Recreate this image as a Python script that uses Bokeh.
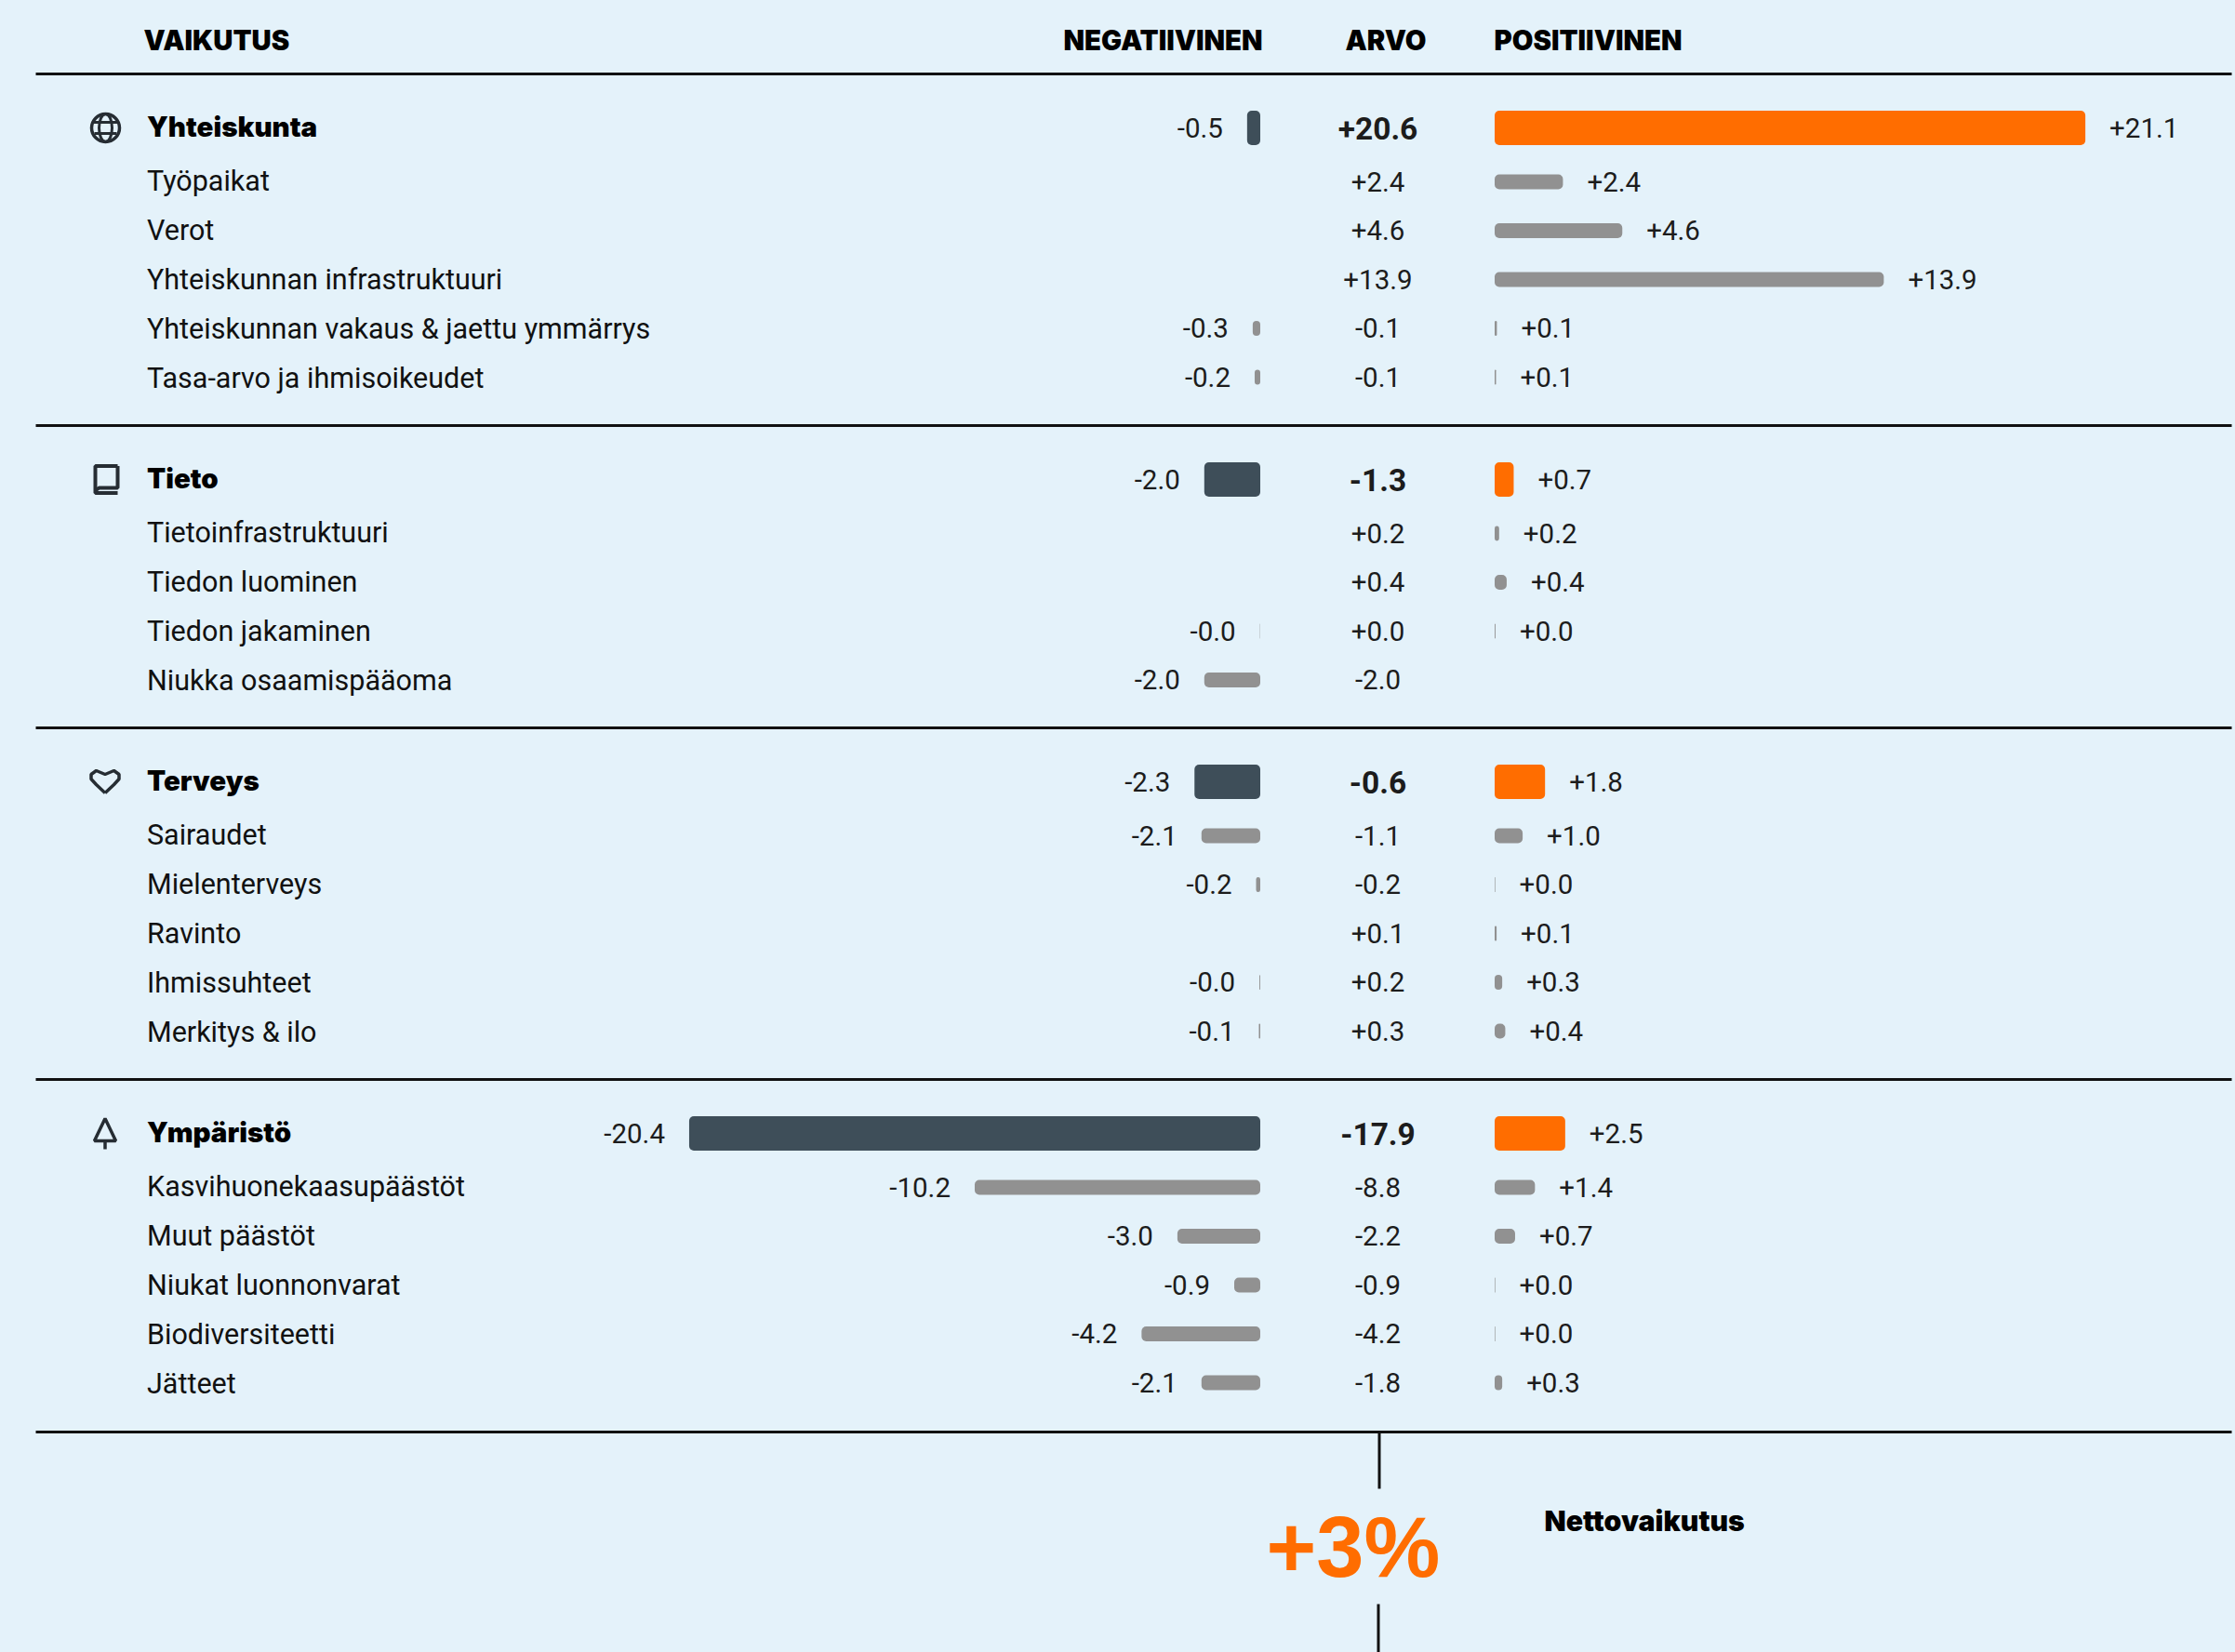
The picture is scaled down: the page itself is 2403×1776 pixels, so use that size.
from bokeh.plotting import figure, ColumnDataSource
from bokeh.models import Range1d
from bokeh.core.properties import value
from bokeh.embed import file_html
from bokeh.resources import INLINE

# ---- data -------------------------------------------------------------
headers = ["VAIKUTUS", "NEGATIIVINEN", "ARVO", "POSITIIVINEN"]
groups = ["Yhteiskunta", "Tieto", "Terveys", "Ympäristö"]
group_neg = [-0.47, -2.0, -2.35, -20.4]
group_pos = [21.1, 0.68, 1.8, 2.52]
group_neg_labels = ["-0.5", "-2.0", "-2.3", "-20.4"]
group_val_labels = ["+20.6", "-1.3", "-0.6", "-17.9"]
group_pos_labels = ["+21.1", "+0.7", "+1.8", "+2.5"]

yhteiskunta = ["Työpaikat", "Verot", "Yhteiskunnan infrastruktuuri",
               "Yhteiskunnan vakaus & jaettu ymmärrys", "Tasa-arvo ja ihmisoikeudet"]
yhteiskunta_neg = [None, None, None, -0.27, -0.2]
yhteiskunta_pos = [2.44, 4.56, 13.9, 0.08, 0.05]
yhteiskunta_neg_labels = [None, None, None, "-0.3", "-0.2"]
yhteiskunta_val_labels = ["+2.4", "+4.6", "+13.9", "-0.1", "-0.1"]
yhteiskunta_pos_labels = ["+2.4", "+4.6", "+13.9", "+0.1", "+0.1"]

tieto = ["Tietoinfrastruktuuri", "Tiedon luominen", "Tiedon jakaminen", "Niukka osaamispääoma"]
tieto_neg = [None, None, -0.01, -2.0]
tieto_pos = [0.16, 0.43, 0.03, None]
tieto_neg_labels = [None, None, "-0.0", "-2.0"]
tieto_val_labels = ["+0.2", "+0.4", "+0.0", "-2.0"]
tieto_pos_labels = ["+0.2", "+0.4", "+0.0", None]

terveys = ["Sairaudet", "Mielenterveys", "Ravinto", "Ihmissuhteet", "Merkitys & ilo"]
terveys_neg = [-2.1, -0.15, None, -0.03, -0.05]
terveys_pos = [1.0, 0.02, 0.07, 0.27, 0.38]
terveys_neg_labels = ["-2.1", "-0.2", None, "-0.0", "-0.1"]
terveys_val_labels = ["-1.1", "-0.2", "+0.1", "+0.2", "+0.3"]
terveys_pos_labels = ["+1.0", "+0.0", "+0.1", "+0.3", "+0.4"]

ymparisto = ["Kasvihuonekaasupäästöt", "Muut päästöt", "Niukat luonnonvarat", "Biodiversiteetti", "Jätteet"]
ymparisto_neg = [-10.2, -2.96, -0.93, -4.24, -2.1]
ymparisto_pos = [1.44, 0.73, 0.02, 0.02, 0.27]
ymparisto_neg_labels = ["-10.2", "-3.0", "-0.9", "-4.2", "-2.1"]
ymparisto_val_labels = ["-8.8", "-2.2", "-0.9", "-4.2", "-1.8"]
ymparisto_pos_labels = ["+1.4", "+0.7", "+0.0", "+0.0", "+0.3"]

net_label = "+3%"
net_title = "Nettovaikutus"

# ---- layout / style ----------------------------------------------------
W, H = 2403, 1776
BG, ORANGE, DARK, GREY, INK = "#E4F2FA", "#FF6D00", "#3E4E59", "#919191", "#1C1C1C"
X_NEG0, X_POS0, PX_PER_UNIT = 1354.5, 1606.5, 30.1
X_VAL, X_NAME = 1481, 157.5
HEAD_Y = [137, 515, 840, 1218]
SUB_FIRST, SUB_STEP = 58, 52.5
NAME_FIRST, NAME_STEP = 57, 53
RULES_Y = [79, 457, 782, 1160, 1539]
HEAD_FONT = value("Inter Black")
SUB_FONT = value("Roboto")

p = figure(width=W, height=H, x_range=Range1d(0, W), y_range=Range1d(H, 0),
           output_backend="svg", toolbar_location=None, min_border=0,
           background_fill_color=BG, border_fill_color=BG, outline_line_color=None)
p.axis.visible = False
p.grid.visible = False
p.extra_x_ranges = {
    "neg": Range1d(-X_NEG0 / PX_PER_UNIT, (W - X_NEG0) / PX_PER_UNIT),
    "pos": Range1d(-X_POS0 / PX_PER_UNIT, (W - X_POS0) / PX_PER_UNIT),
}

# rules
p.segment(x0=[38] * 5, x1=[2399] * 5, y0=RULES_Y, y1=RULES_Y, line_color="#111111", line_width=3)
p.segment(x0=[1482.5, 1481.5], x1=[1482.5, 1481.5], y0=[1539, 1724], y1=[1600, 1776],
          line_color="#111111", line_width=3)

# header row
p.text(x=[154, 1143, 1446, 1606], y=[42.5] * 4, text=headers, text_font=HEAD_FONT,
       text_font_size="29.3px", text_color="#000000", text_baseline="middle")

sub_tables = [
    (yhteiskunta, yhteiskunta_neg, yhteiskunta_pos, yhteiskunta_neg_labels, yhteiskunta_val_labels, yhteiskunta_pos_labels),
    (tieto, tieto_neg, tieto_pos, tieto_neg_labels, tieto_val_labels, tieto_pos_labels),
    (terveys, terveys_neg, terveys_pos, terveys_neg_labels, terveys_val_labels, terveys_pos_labels),
    (ymparisto, ymparisto_neg, ymparisto_pos, ymparisto_neg_labels, ymparisto_val_labels, ymparisto_pos_labels),
]

sub_y, name_y, sub_names, sub_neg, sub_pos, sub_neg_l, sub_val, sub_pos_l = [], [], [], [], [], [], [], []
for y0, table in zip(HEAD_Y, sub_tables):
    for i in range(len(table[0])):
        sub_y.append(y0 + SUB_FIRST + i * SUB_STEP)
        name_y.append(y0 + NAME_FIRST + i * NAME_STEP)
        sub_names.append(table[0][i]); sub_neg.append(table[1][i]); sub_pos.append(table[2][i])
        sub_neg_l.append(table[3][i]); sub_val.append(table[4][i]); sub_pos_l.append(table[5][i])


def present(ys, vals, labels):
    keep = [i for i, v in enumerate(vals) if v is not None]
    return ColumnDataSource(dict(y=[ys[i] for i in keep], v=[vals[i] for i in keep],
                                 t=[labels[i] for i in keep], z=[0] * len(keep)))


neg_sub = present(sub_y, sub_neg, sub_neg_l)
pos_sub = present(sub_y, sub_pos, sub_pos_l)
neg_head = present(HEAD_Y, group_neg, group_neg_labels)
pos_head = present(HEAD_Y, group_pos, group_pos_labels)

# bars
p.hbar(y="y", left="v", right="z", height=16, source=neg_sub, x_range_name="neg",
       fill_color=GREY, line_color=None, border_radius=5)
p.hbar(y="y", left="z", right="v", height=16, source=pos_sub, x_range_name="pos",
       fill_color=GREY, line_color=None, border_radius=5)
p.hbar(y="y", left="v", right="z", height=37, source=neg_head, x_range_name="neg",
       fill_color=DARK, line_color=None, border_radius=5)
p.hbar(y="y", left="z", right="v", height=37, source=pos_head, x_range_name="pos",
       fill_color=ORANGE, line_color=None, border_radius=5)

# bar labels
common = dict(y="y", text="t", text_font=SUB_FONT, text_color=INK, text_baseline="middle",
              text_font_size="29.5px", y_offset=-0.5)
p.text(x="v", source=neg_sub, x_range_name="neg", x_offset=-26, text_align="right", **common)
p.text(x="v", source=pos_sub, x_range_name="pos", x_offset=26, text_align="left", **common)
p.text(x="v", source=neg_head, x_range_name="neg", x_offset=-26, text_align="right", **common)
p.text(x="v", source=pos_head, x_range_name="pos", x_offset=26, text_align="left", **common)

# value column
p.text(x=[X_VAL] * len(sub_y), y=sub_y, y_offset=-0.5, text=sub_val, text_font=SUB_FONT, text_color=INK,
       text_baseline="middle", text_align="center", text_font_size="29.5px")
p.text(x=[X_VAL] * 4, y=HEAD_Y, text=group_val_labels, text_font=SUB_FONT, text_font_style="bold",
       text_color=INK, text_baseline="middle", text_align="center", text_font_size="33.5px")

# row names
p.text(x=[X_NAME] * len(sub_y), y=name_y, text=sub_names, text_font=SUB_FONT, text_color="#111111",
       text_baseline="middle", text_font_size="30.5px")
p.text(x=[X_NAME] * 4, y=HEAD_Y, y_offset=-2, text=groups, text_font=HEAD_FONT, text_color="#000000",
       text_baseline="middle", text_font_size="29.5px")

# icons
ICON = "#262D33"
p.circle(x=[113], y=[137], radius=15, fill_color=None, line_color=ICON, line_width=3.5)
p.ellipse(x=[113], y=[137], width=14, height=30, fill_color=None, line_color=ICON, line_width=3)
p.segment(x0=[99, 101], x1=[127, 125], y0=[131, 143], y1=[131, 143], line_color=ICON, line_width=3)
p.line(x=[126, 102, 102, 126], y=[500.5, 500.5, 529.5, 529.5], line_color=ICON, line_width=4)
p.line(x=[126, 126, 106, 102], y=[500.5, 524, 524, 527], line_color=ICON, line_width=4)
p.line(x=[112.5, 103, 97.5, 97.5, 103, 112.5, 122, 127.5, 127.5, 122, 112.5],
       y=[852, 843, 837, 832, 828, 832, 828, 832, 837, 843, 852], line_color=ICON, line_width=3.5)
p.patch(x=[112.5, 101, 124], y=[1202, 1226, 1226], fill_color=None, line_color=ICON, line_width=3.5)
p.segment(x0=[112.5], x1=[112.5], y0=[1226], y1=[1235], line_color=ICON, line_width=3.5)

# net effect
p.text(x=[1361], y=[1662], text=[net_label], text_font=value("Liberation Sans"), text_font_style="bold",
       text_color=ORANGE, text_baseline="middle", text_font_size="92px")
p.text(x=[1660], y=[1634.5], text=[net_title], text_font=HEAD_FONT, text_color="#000000",
       text_baseline="middle", text_font_size="30.2px")

html = file_html(p, INLINE)
html = html.replace("<head>", "<head><style>html,body{margin:0;padding:0;overflow:hidden;background:%s}</style>" % BG, 1)
open("out.html", "w").write(html)
